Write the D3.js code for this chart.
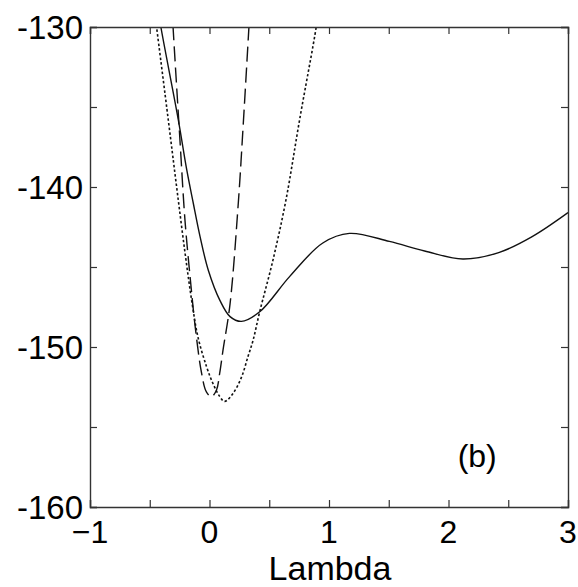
<!DOCTYPE html>
<html>
<head>
<meta charset="utf-8">
<script src="https://cdn.jsdelivr.net/npm/d3@7"></script>
<style>
  html, body { margin: 0; padding: 0; background: #fff; }
  svg { display: block; }
  text { font-family: Arial, "Liberation Sans", Helvetica, sans-serif; fill: #000; }
</style>
</head>
<body>
<svg id="chart" width="578" height="587"></svg>
<script>
// ---- data ----
const xTicks = [-1, -0.5, 0, 0.5, 1, 1.5, 2, 2.5, 3];
const xTickLabels = ["\u22121", "", "0", "", "1", "", "2", "", "3"];
const yTicks = [-130, -135, -140, -145, -150, -155, -160];
const yTickLabels = ["-130", "", "-140", "", "-150", "", "-160"];
const xLabel = "Lambda";
const panelLabel = "(b)";

const solidLambda = [-0.43, -0.407, -0.261, -0.191, -0.136, -0.079, -0.010, 0.088, 0.172, 0.267, 0.42, 0.67, 0.948, 1.171, 1.505, 1.8, 2.12, 2.42, 2.70, 3.0];
const solidValue  = [-128.9, -130, -135.8, -138.9, -141.0, -143.1, -145.2, -147.1, -148.1, -148.4, -147.8, -145.6, -143.5, -142.9, -143.4, -144.0, -144.5, -144.1, -143.1, -141.6];

const dashedLambda = [-0.315, -0.305, -0.247, -0.205, -0.16, -0.117, -0.067, -0.026, 0.016, 0.058, 0.086, 0.113, 0.172, 0.241, 0.283, 0.33, 0.34];
const dashedValue  = [-128.6, -130, -137.1, -142.1, -145.8, -148.9, -151.6, -152.8, -153.1, -152.7, -151.6, -150.2, -147.3, -141.0, -136.0, -130, -128.7];

const dottedLambda = [-0.46, -0.443, -0.345, -0.275, -0.205, -0.145, -0.096, -0.026, 0.03, 0.086, 0.127, 0.197, 0.267, 0.322, 0.364, 0.42, 0.53, 0.64, 0.754, 0.893, 0.91];
const dottedValue  = [-129.0, -130, -135.8, -140.0, -144.1, -147.3, -149.4, -151.2, -152.3, -153.1, -153.4, -152.9, -151.9, -150.6, -149.6, -147.8, -144.6, -140.8, -135.8, -130, -129.0];

// ---- layout ----
const svg = d3.select("#chart");
const mLeft = 90, mRight = 568, mTop = 27, mBottom = 507;
const x = d3.scaleLinear().domain([-1, 3]).range([mLeft, mRight]);
const y = d3.scaleLinear().domain([-160, -130]).range([mBottom, mTop]);

svg.append("defs").append("clipPath").attr("id", "clip")
  .append("rect").attr("x", mLeft).attr("y", mTop)
  .attr("width", mRight - mLeft).attr("height", mBottom - mTop);

const line = d3.line().x(d => x(d[0])).y(d => y(d[1])).curve(d3.curveCatmullRom.alpha(0.5));
const series = [
  { lam: solidLambda, val: solidValue, dash: null, w: 1.4 },
  { lam: dashedLambda, val: dashedValue, dash: "15,6", w: 1.4 },
  { lam: dottedLambda, val: dottedValue, dash: "2.5,2.2", w: 1.6 }
];
const g = svg.append("g").attr("clip-path", "url(#clip)");
series.forEach(s => {
  const pts = s.lam.map((l, i) => [l, s.val[i]]);
  g.append("path").attr("d", line(pts))
    .attr("fill", "none").attr("stroke", "#111")
    .attr("stroke-width", s.w)
    .attr("stroke-dasharray", s.dash);
});

// axes (ticks inward on all sides)
const axStroke = "#333";
const tickLen = 7;
const axG = svg.append("g");
const bottomAxis = d3.axisBottom(x).tickValues(xTicks).tickSize(-tickLen).tickFormat(() => "");
const topAxis = d3.axisTop(x).tickValues(xTicks).tickSize(-tickLen).tickFormat(() => "");
const leftAxis = d3.axisLeft(y).tickValues(yTicks).tickSize(-tickLen).tickFormat(() => "");
const rightAxis = d3.axisRight(y).tickValues(yTicks).tickSize(-tickLen).tickFormat(() => "");
[[bottomAxis, `translate(0,${mBottom})`], [topAxis, `translate(0,${mTop})`],
 [leftAxis, `translate(${mLeft},0)`], [rightAxis, `translate(${mRight},0)`]].forEach(([ax, tr]) => {
  const a = axG.append("g").attr("transform", tr).call(ax);
  a.select(".domain").attr("stroke", axStroke).attr("stroke-width", 1.4);
  a.selectAll(".tick line").attr("stroke", axStroke).attr("stroke-width", 1.2);
});

// tick labels
svg.append("g").selectAll("text").data(xTicks).join("text")
  .attr("x", d => x(d)).attr("y", 543)
  .attr("text-anchor", "middle").attr("font-size", 32)
  .text((d, i) => xTickLabels[i]);
svg.append("g").selectAll("text").data(yTicks).join("text")
  .attr("x", 83).attr("y", d => y(d) + 12)
  .attr("text-anchor", "end").attr("font-size", 33)
  .text((d, i) => yTickLabels[i]);

svg.append("text").attr("x", 330).attr("y", 580)
  .attr("text-anchor", "middle").attr("font-size", 34).text(xLabel);

svg.append("text").attr("x", x(2.24)).attr("y", y(-157.5))
  .attr("text-anchor", "middle").attr("font-size", 32).text(panelLabel);
</script>
</body>
</html>
